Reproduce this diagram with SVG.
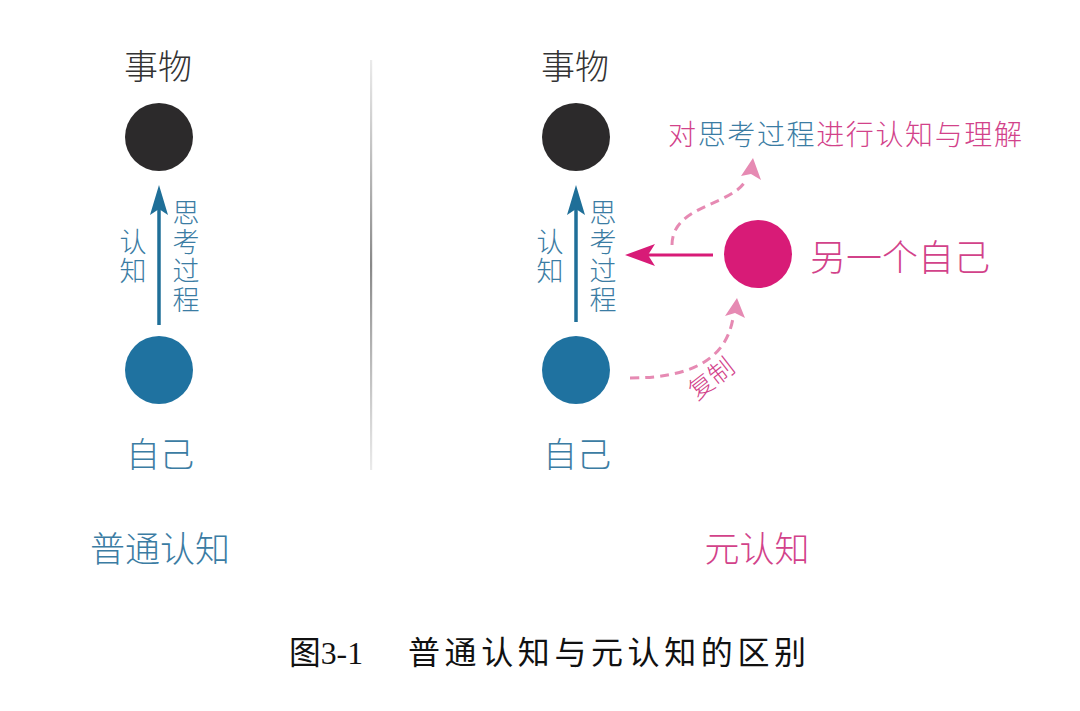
<svg xmlns="http://www.w3.org/2000/svg" width="1080" height="711" viewBox="0 0 1080 711">
<defs>
<style>
.t{font-family:"Noto Sans CJK SC","Noto Sans",sans-serif;font-weight:300;text-anchor:middle;dominant-baseline:central}
.v{writing-mode:vertical-rl;font-size:27px;letter-spacing:1.8px}
.dark{fill:#333333}
.blue{fill:#3b7ca3}
.pink{fill:#d2428a}
.cap{font-family:"Liberation Serif","Noto Sans CJK SC",serif;font-size:32px;fill:#111;dominant-baseline:central}
.dash{fill:none;stroke:#e68ab3;stroke-width:3;stroke-dasharray:9 6}
.dhead{fill:#e68ab3}
</style>
<linearGradient id="divg" x1="0" y1="0" x2="0" y2="1">
<stop offset="0" stop-color="#999" stop-opacity="0.2"/>
<stop offset="0.5" stop-color="#888" stop-opacity="1"/>
<stop offset="1" stop-color="#999" stop-opacity="0.2"/>
</linearGradient>
</defs>
<rect width="1080" height="711" fill="#ffffff"/>

<rect id="divider" x="370" y="60" width="2.2" height="410" fill="url(#divg)"/>

<g id="left-thing">
<text class="t dark" x="158" y="64" font-size="34">事物</text>
<circle cx="159" cy="137" r="34" fill="#2c2a2b"/>
</g>
<g id="left-self">
<circle cx="159" cy="370" r="34" fill="#1f72a0"/>
<text class="t blue" x="160" y="452" font-size="34">自己</text>
</g>
<g id="left-title">
<text class="t blue" x="160" y="546" font-size="35">普通认知</text>
</g>

<g id="right-thing">
<text class="t dark" x="575" y="64" font-size="34">事物</text>
<circle cx="576" cy="137" r="34" fill="#2c2a2b"/>
</g>
<g id="right-self">
<circle cx="576" cy="370" r="34" fill="#1f72a0"/>
<text class="t blue" x="577" y="452" font-size="34">自己</text>
</g>
<g id="other-self">
<circle cx="758" cy="254" r="34" fill="#d81b77"/>
<text class="t pink" x="900" y="255" font-size="36" textLength="180" lengthAdjust="spacing">另一个自己</text>
</g>
<g id="meta-label">
<text class="t" x="845" y="133" font-size="28" textLength="354" lengthAdjust="spacing"><tspan class="pink">对</tspan><tspan class="blue">思考过程</tspan><tspan class="pink">进行认知与理解</tspan></text>
</g>
<g id="right-title">
<text class="t pink" x="757" y="546" font-size="35">元认知</text>
</g>

<g id="connectors">
<line x1="159" y1="325" x2="159" y2="205" stroke="#1f6f98" stroke-width="3.5"/>
<path d="M159,185 L150,215 L159,209 L168,215 Z" fill="#1f6f98"/>
<line x1="576" y1="322" x2="576" y2="205" stroke="#1f6f98" stroke-width="3.5"/>
<path d="M576,185 L567,215 L576,209 L585,215 Z" fill="#1f6f98"/>
<line x1="713" y1="255" x2="642" y2="255" stroke="#d81b77" stroke-width="3"/>
<path d="M625,255 L655,244 L648,255 L655,266 Z" fill="#d81b77"/>
<path class="dash" d="M672,245 C672,205 732,206 746,180"/>
<path class="dhead" d="M753,158 L761,180 L751,174 L741,176 Z"/>
<path class="dash" d="M630,378 C690,378 726,360 733,318"/>
<path class="dhead" d="M737,298 L745,318 L735,313 L725,316 Z"/>
</g>

<g id="labels">
<text class="t blue v" x="133" y="257">认知</text>
<text class="t blue v" x="186" y="257">思考过程</text>
<text class="t blue v" x="550" y="257">认知</text>
<text class="t blue v" x="603" y="257">思考过程</text>
<text class="t pink" font-size="25" transform="translate(710,377) rotate(-38)" x="0" y="0">复制</text>
</g>

<g id="caption">
<text class="cap" x="289" y="653" textLength="74" lengthAdjust="spacingAndGlyphs">图3-1</text>
<text class="cap" x="408" y="653" textLength="398" lengthAdjust="spacing">普通认知与元认知的区别</text>
</g>
</svg>
